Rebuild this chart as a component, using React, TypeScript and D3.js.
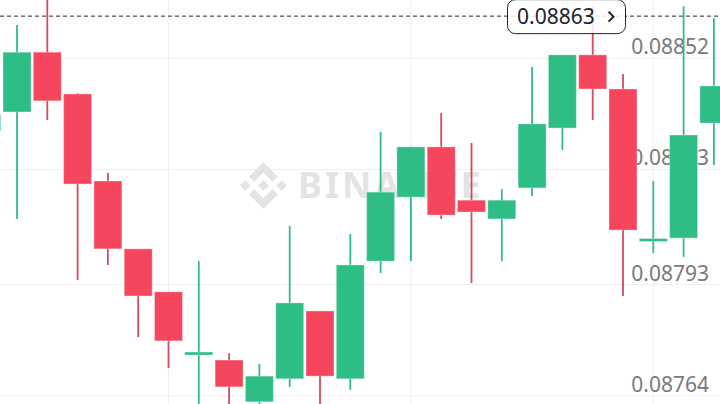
import React from "react";
import * as d3 from "d3";

// Candle data (index 0 is partially off-screen on the left)
const candleIndex = d3.range(25);
const opens = [0.08833, 0.08838, 0.088536, 0.088427, 0.0882, 0.088023, 0.087911, 0.087748, 0.087733, 0.087624, 0.087684, 0.087861, 0.087684, 0.087991, 0.088158, 0.088289, 0.08815, 0.088101, 0.088182, 0.088338, 0.088529, 0.08844, 0.088044, 0.088051, 0.088351];
const closes = [0.088372, 0.088536, 0.088409, 0.088192, 0.088023, 0.0879, 0.087783, 0.087752, 0.087663, 0.087691, 0.087882, 0.087691, 0.087981, 0.088171, 0.088289, 0.088111, 0.088119, 0.08815, 0.088349, 0.088529, 0.08844, 0.088072, 0.088048, 0.08832, 0.088448];
const highs = [0.08839, 0.088607, 0.088685, 0.088429, 0.088221, 0.088023, 0.087911, 0.087991, 0.087751, 0.087723, 0.088083, 0.087861, 0.088062, 0.088328, 0.088289, 0.088377, 0.088299, 0.088179, 0.088497, 0.088529, 0.088656, 0.088479, 0.0882, 0.088656, 0.088625];
const lows = [0.08831, 0.088101, 0.088359, 0.087942, 0.087981, 0.087793, 0.087712, 0.08757, 0.08757, 0.08757, 0.087663, 0.08757, 0.087655, 0.08796, 0.087991, 0.088101, 0.087934, 0.087991, 0.088161, 0.088281, 0.088359, 0.0879, 0.088012, 0.088002, 0.088242];

const priceTickValues = [0.08852, 0.08823, 0.08793, 0.08764];
const priceTickLabels = ["0.08852", "0.08823", "0.08793", "0.08764"];
const verticalGridIndex = [6, 14, 22];
const currentPrice = 0.08863;
const currentPriceLabel = "0.08863";

const W = 720;
const H = 404;
const UP = "#2EBD85";
const DOWN = "#F6465D";
const DOWN_WICK = "#D9475D";
const FONT = "'Noto Sans', sans-serif";

export default function App() {
  const x = d3.scaleLinear().domain([0, 24]).range([-13.3, 713.9]);
  const y = d3.scaleLinear().domain([0.08764, 0.08852]).range([395.7, 58.3]);
  const bodyW = 28;
  const cpY = y(currentPrice);

  const logoPath =
    "M38.73 53.2l24.59-24.58 24.6 24.6 14.3-14.31L63.32 0 24.42 38.9 38.73 53.2zM0 63.31l14.3-14.31 14.31 14.31-14.31 14.3zM38.73 73.41l24.59 24.59 24.6-24.6 14.31 14.29-38.9 38.91-38.91-38.88-.02-.02 14.33-14.29zM98 63.31l14.3-14.31 14.31 14.3-14.31 14.32zM77.83 63.3L63.32 48.78 48.8 63.3l14.52 14.52z";

  return (
    <svg
      width={W}
      height={H}
      style={{ position: "absolute", left: 0, top: 0, background: "#fff" }}
    >
      <rect x={0} y={0} width={W} height={H} fill="#fff" />
      {/* grid */}
      {priceTickValues.map((v, i) => (
        <line key={"h" + i} x1={0} x2={W} y1={y(v)} y2={y(v)} stroke="#efefef" strokeWidth={1} />
      ))}
      {verticalGridIndex.map((idx) => (
        <line key={"v" + idx} x1={x(idx)} x2={x(idx)} y1={0} y2={H} stroke="#efefef" strokeWidth={1} />
      ))}
      {/* price labels */}
      {priceTickValues.map((v, i) => (
        <text
          key={"t" + i}
          x={709}
          y={y(v) - 4}
          textAnchor="end"
          fontFamily={FONT}
          fontSize={21}
          fill="#7a7a7a"
        >
          {priceTickLabels[i]}
        </text>
      ))}
      {/* watermark */}
      <g opacity={1}>
        <path d={logoPath} transform="translate(240,162) scale(0.37)" fill="#e3e3e3" />
        <text
          x={298}
          y={198}
          fontFamily={FONT}
          fontWeight={700}
          fontSize={36}
          letterSpacing={3}
          fill="#e3e3e3"
        >
          BINANCE
        </text>
      </g>
      {/* candles */}
      {candleIndex.map((i) => {
        const o = opens[i];
        const c = closes[i];
        const up = c >= o;
        const cx = x(i);
        const top = y(Math.max(o, c));
        const bot = y(Math.min(o, c));
        let h = bot - top;
        let by = top;
        if (h < 3) {
          by = (top + bot) / 2 - 1.5;
          h = 3;
        }
        return (
          <g key={"c" + i}>
            <line
              x1={cx}
              x2={cx}
              y1={y(highs[i])}
              y2={y(lows[i])}
              stroke={up ? UP : DOWN_WICK}
              strokeWidth={1.8}
            />
            <rect
              x={cx - bodyW / 2}
              y={by}
              width={bodyW}
              height={h}
              fill={up ? UP : DOWN}
              stroke="rgba(255,255,255,0.35)"
              strokeWidth={1}
            />
          </g>
        );
      })}
      {/* current price line */}
      <line x1={0} x2={W} y1={cpY} y2={cpY} stroke="#2b2b2b" strokeWidth={1} strokeDasharray="4 3" />
      <g>
        <rect
          x={507.5}
          y={cpY - 16.5}
          width={118}
          height={34}
          rx={8}
          fill="rgba(255,255,255,0.85)"
          stroke="#1e2329"
          strokeWidth={1}
        />
        <text x={517} y={cpY + 8} fontFamily={FONT} fontSize={21} fill="#1e2329">
          {currentPriceLabel}
        </text>
        <path
          d={`M608.5,${cpY - 4.5} L613.5,${cpY + 0.5} L608.5,${cpY + 5.5}`}
          fill="none"
          stroke="#1e2329"
          strokeWidth={2}
        />
      </g>
    </svg>
  );
}
